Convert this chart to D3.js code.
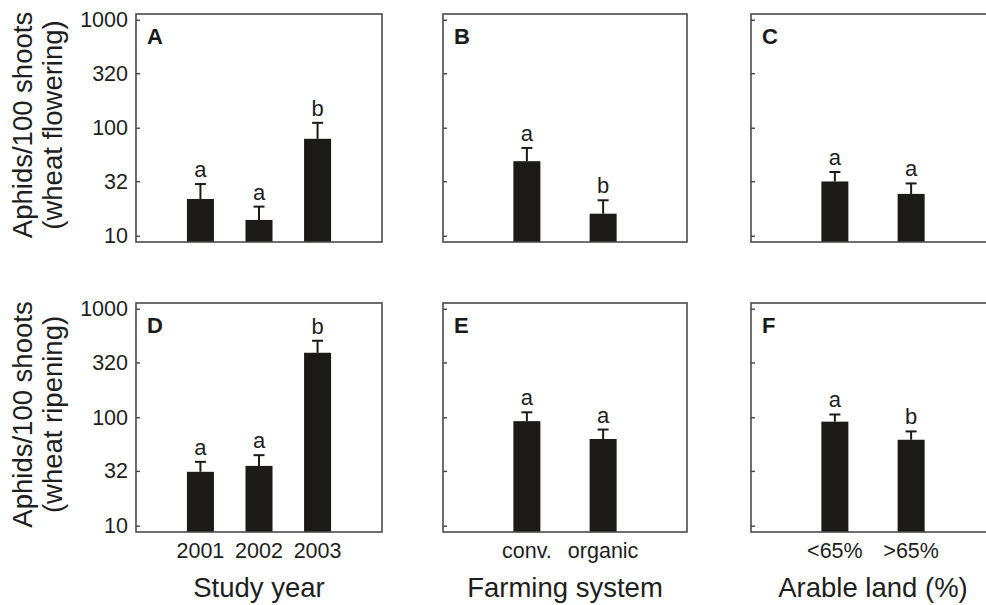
<!DOCTYPE html>
<html>
<head>
<meta charset="utf-8">
<script src="https://cdn.jsdelivr.net/npm/d3@7"></script>
<style>
  body { margin: 0; background: #fff; }
  svg { display: block; font-family: Arial, "Liberation Sans", sans-serif; }
  .tick text { font-size: 21.5px; fill: #1e1e1e; }
  .tick line { stroke: #444; stroke-width: 1.4; }
  .frame { fill: none; stroke: #4a4a4a; stroke-width: 1.6; }
  .bar { fill: #1c1a17; }
  .err { stroke: #1c1a17; stroke-width: 2; fill: none; }
</style>
</head>
<body>
<div id="chart"></div>
<script>
// categories
var yearCats = ["2001", "2002", "2003"];
var farmCats = ["conv.", "organic"];
var landCats = ["<65%", ">65%"];

// y ticks (log scale)
var yTicks = [10, 32, 100, 320, 1000];

// wheat flowering: means and upper error bar ends
var flowYear = [21.9, 14.0, 79];
var flowYearErr = [30.1, 18.6, 111];
var flowFarm = [49, 16];
var flowFarmErr = [65, 21.3];
var flowLand = [31.8, 24.4];
var flowLandErr = [38.9, 30.5];

// wheat ripening
var ripeYear = [31.4, 35.6, 393];
var ripeYearErr = [38.8, 44.7, 507];
var ripeFarm = [92, 63];
var ripeFarmErr = [111, 77];
var ripeLand = [91, 62];
var ripeLandErr = [106, 74];

// significance letters
var flowYearSig = ["a", "a", "b"];
var flowFarmSig = ["a", "b"];
var flowLandSig = ["a", "a"];
var ripeYearSig = ["a", "a", "b"];
var ripeFarmSig = ["a", "a"];
var ripeLandSig = ["a", "b"];

var W = 986, H = 605;

var svg = d3.select("#chart")
  .append("svg")
  .attr("width", W)
  .attr("height", H);

// column and row extents
var cols = [[136, 382], [443, 687], [751, 995]];
var rows = [[14, 242], [303, 532]];

var panels = [
  {id: "A", row: 0, col: 0, cats: yearCats, vals: flowYear, err: flowYearErr, sig: flowYearSig},
  {id: "B", row: 0, col: 1, cats: farmCats, vals: flowFarm, err: flowFarmErr, sig: flowFarmSig},
  {id: "C", row: 0, col: 2, cats: landCats, vals: flowLand, err: flowLandErr, sig: flowLandSig},
  {id: "D", row: 1, col: 0, cats: yearCats, vals: ripeYear, err: ripeYearErr, sig: ripeYearSig},
  {id: "E", row: 1, col: 1, cats: farmCats, vals: ripeFarm, err: ripeFarmErr, sig: ripeFarmSig},
  {id: "F", row: 1, col: 2, cats: landCats, vals: ripeLand, err: ripeLandErr, sig: ripeLandSig}
];

var barW = 27, capW = 11;

panels.forEach(function(p) {
  var x0 = cols[p.col][0], x1 = cols[p.col][1];
  var y0 = rows[p.row][0], y1 = rows[p.row][1];

  var x = d3.scalePoint()
    .domain(p.cats)
    .range([x0, x1])
    .padding(1.1);

  var y = d3.scaleLog()
    .domain([8.75, 1130])
    .range([y1, y0]);

  var g = svg.append("g").attr("class", "panel");

  var data = p.cats.map(function(c, i) {
    return {cat: c, v: p.vals[i], e: p.err[i], s: p.sig[i]};
  });

  // bars
  g.selectAll(".bar")
    .data(data)
    .enter().append("rect")
    .attr("class", "bar")
    .attr("x", function(d) { return x(d.cat) - barW / 2; })
    .attr("y", function(d) { return y(d.v); })
    .attr("width", barW)
    .attr("height", function(d) { return y1 - y(d.v); });

  // error bars (upper only)
  g.selectAll(".err-v")
    .data(data)
    .enter().append("line")
    .attr("class", "err")
    .attr("x1", function(d) { return x(d.cat); })
    .attr("x2", function(d) { return x(d.cat); })
    .attr("y1", function(d) { return y(d.v); })
    .attr("y2", function(d) { return y(d.e); });

  g.selectAll(".err-cap")
    .data(data)
    .enter().append("line")
    .attr("class", "err")
    .attr("x1", function(d) { return x(d.cat) - capW / 2; })
    .attr("x2", function(d) { return x(d.cat) + capW / 2; })
    .attr("y1", function(d) { return y(d.e); })
    .attr("y2", function(d) { return y(d.e); });

  // significance letters
  g.selectAll(".sig")
    .data(data)
    .enter().append("text")
    .attr("class", "sig")
    .attr("x", function(d) { return x(d.cat); })
    .attr("y", function(d) { return y(d.e) - 7; })
    .attr("text-anchor", "middle")
    .style("font-size", "22px")
    .style("fill", "#1e1e1e")
    .text(function(d) { return d.s; });

  // y axis with inward ticks
  var yAxis = d3.axisLeft(y)
    .tickValues(yTicks)
    .tickSizeInner(-4)
    .tickSizeOuter(0)
    .tickPadding(8)
    .tickFormat(p.col === 0 ? d3.format("d") : "");

  var ya = g.append("g")
    .attr("transform", "translate(" + x0 + ",0)")
    .call(yAxis);
  ya.select(".domain").remove();

  // x category labels on the bottom row
  if (p.row === 1) {
    g.selectAll(".xlab")
      .data(data)
      .enter().append("text")
      .attr("x", function(d) { return x(d.cat); })
      .attr("y", 558)
      .attr("text-anchor", "middle")
      .style("font-size", "21.5px")
      .style("fill", "#1e1e1e")
      .text(function(d) { return d.cat; });
  }

  // frame
  g.append("rect")
    .attr("class", "frame")
    .attr("x", x0)
    .attr("y", y0)
    .attr("width", x1 - x0)
    .attr("height", y1 - y0);

  // panel letter
  g.append("text")
    .attr("x", x0 + 11)
    .attr("y", y0 + 30)
    .style("font-size", "22px")
    .style("font-weight", "bold")
    .style("fill", "#1a1a1a")
    .text(p.id);
});

// x axis titles
var xTitles = ["Study year", "Farming system", "Arable land (%)"];
svg.selectAll(".xtitle")
  .data(xTitles)
  .enter().append("text")
  .attr("class", "xtitle")
  .attr("x", function(d, i) { return (cols[i][0] + cols[i][1]) / 2; })
  .attr("y", 597)
  .attr("text-anchor", "middle")
  .style("font-size", "27.5px")
  .style("fill", "#1e1e1e")
  .text(function(d) { return d; });

// y axis titles (two lines each)
var yTitles = [["Aphids/100 shoots", "(wheat flowering)"], ["Aphids/100 shoots", "(wheat ripening)"]];
yTitles.forEach(function(lines, r) {
  var cy = (rows[r][0] + rows[r][1]) / 2 - 3;
  lines.forEach(function(t, k) {
    svg.append("text")
      .attr("transform", "translate(" + (32 + k * 30) + "," + cy + ") rotate(-90)")
      .attr("text-anchor", "middle")
      .style("font-size", "27.5px")
      .style("fill", "#1e1e1e")
      .text(t);
  });
});
</script>
</body>
</html>
